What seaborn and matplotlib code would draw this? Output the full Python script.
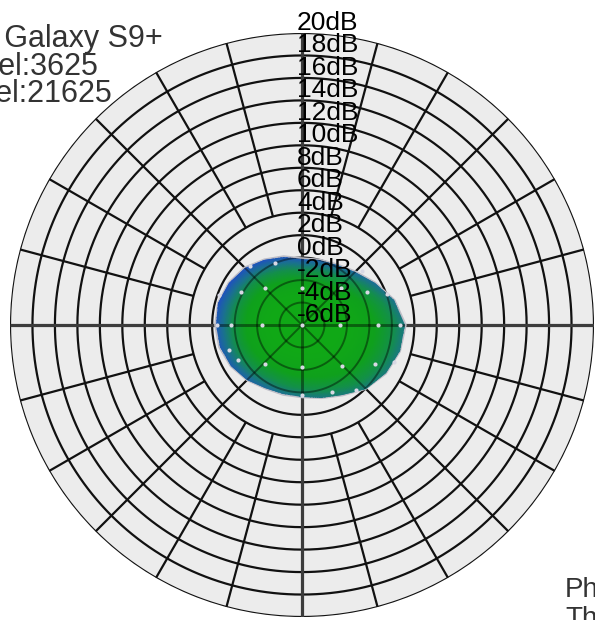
import numpy as np
import matplotlib
matplotlib.use("Agg")
import matplotlib.pyplot as plt
import seaborn as sns
from matplotlib import font_manager, transforms
from matplotlib.colors import LinearSegmentedColormap

sns.set_theme(style="white")
plt.rcParams['font.family'] = ['Liberation Sans', 'DejaVu Sans']

# ---- data -------------------------------------------------------------
# scale rings (dB) and their labels
ring_levels = [-4, -2, 0, 2, 4, 6, 8, 10, 12, 14, 16, 18, 20]
label_levels = [20, 18, 16, 14, 12, 10, 8, 6, 4, 2, 0, -2, -4, -6]
label_text = [f"{v}dB" for v in label_levels]

# azimuth cut of the measured pattern (deg) and gain (dB)
azimuth_deg = [0, 15, 30, 45, 60, 75, 90, 105, 120, 135, 150, 165,
               180, 195, 210, 225, 240, 255, 270, 285, 300, 315, 330, 345]
gain_db = [3.2, 2.5, 1.5, 0.7, 0.2, 0.0, -0.1, 0.3, 0.7, 1.2, 1.5, 1.7,
           1.7, 1.6, 1.3, 0.9, 0.5, 0.4, 0.4, 0.7, 1.2, 2.0, 2.6, 3.0]

# projected measurement points on the surface
point_phi_deg = [0,
                 0, 43, 90, 135, 180, 227, 270, 314,
                 0, 27, 114, 152, 180, 209, 294, 332,
                 0, 20, 42, 131, 160, 180, 199, 270, 310, 338]
point_db = [-6.0,
            -2.6, -1.2, -2.7, -1.4, -2.4, -1.2, -2.3, -0.9,
            0.8, 0.5, 0.0, 0.2, 0.3, 0.5, 0.5, 1.4,
            2.7, 2.1, 1.2, 1.0, 1.9, 1.6, 0.9, 0.2, 1.5, 2.8]

title_lines = ["Samsung Galaxy S9+", "DL Channel:3625", "UL Channel:21625"]
footer_lines = ["Phi", "Theta"]

# ---- fonts -------------------------------------------------------------
label_fp = None
for entry in font_manager.fontManager.ttflist:
    if "liberationsansnarrow-regular" in entry.fname.lower():
        label_fp = font_manager.FontProperties(fname=entry.fname, size=21)
        break
if label_fp is None:
    label_fp = font_manager.FontProperties(family="Liberation Sans", size=19)

# ---- figure ------------------------------------------------------------
W, H = 595, 620
fig = plt.figure(figsize=(W / 100, H / 100), dpi=100)
fig.patch.set_facecolor("white")
ax = fig.add_axes([10 / W, 3 / H, 584 / W, 584 / H], projection="polar")
rmin, rmax = -6, 20
ax.set_ylim(rmin, rmax)
ax.set_facecolor("#ececec")
ax.grid(False)
ax.set_xticks([])
ax.set_yticks([])
ax.spines["polar"].set_visible(False)

theta_fine = np.linspace(0, 2 * np.pi, 721)


def draw_grid(color, axis_color, alpha, zorder, lw=1.6, clip=None):
    lines = []
    for lv in ring_levels:
        lines += ax.plot(theta_fine, np.full_like(theta_fine, lv),
                         color=color, lw=lw, alpha=alpha, zorder=zorder)
    for a in range(0, 360, 15):
        t = np.radians(a)
        if a % 90 == 0:
            lines += ax.plot([t, t], [rmin, rmax], color=axis_color,
                             lw=lw + 0.7, alpha=alpha, zorder=zorder,
                             solid_capstyle="butt")
        elif a % 45 == 0:
            lines += ax.plot([t, t], [rmin, rmax], color=color, lw=lw,
                             alpha=alpha, zorder=zorder, solid_capstyle="butt")
        else:
            lines += ax.plot([t, t], [4, rmax], color=color, lw=lw,
                             alpha=alpha, zorder=zorder, solid_capstyle="butt")
    if clip is not None:
        for ln in lines:
            ln.set_clip_path(clip)
    return lines


# base grid
draw_grid("#111111", "#3c3c3c", 1.0, 2)

# pattern outline
th_closed = np.radians(azimuth_deg + [azimuth_deg[0] + 360])
g_closed = np.array(gain_db + [gain_db[0]])
blob = ax.fill(th_closed, g_closed, facecolor="none", edgecolor="#bdbdc6",
               lw=2.0, zorder=3)[0]

# shaded surface, clipped to the pattern outline
th_e = np.linspace(0, 2 * np.pi, 361)
r_e = np.linspace(rmin, 5, 160)
thc = 0.5 * (th_e[1:] + th_e[:-1])
rc = 0.5 * (r_e[1:] + r_e[:-1])
TH, RR = np.meshgrid(thc, rc)
edge_r = np.interp(thc, th_closed, g_closed)[None, :] - rmin
frac = (RR - rmin) / edge_r
tilt = 0.85 + 0.15 * np.cos(TH - np.radians(140))
V = np.clip(np.clip((frac - 0.32) / 0.68, 0, 1) ** 1.6 * tilt, 0, 1)
cmap = LinearSegmentedColormap.from_list(
    "surf", [(0.0, "#10a816"), (0.3, "#0fa01c"), (0.55, "#138f4a"),
             (0.78, "#1a7090"), (1.0, "#1f50c0")])
mesh = ax.pcolormesh(th_e, r_e, V, cmap=cmap, vmin=0, vmax=1,
                     shading="flat", antialiased=False, zorder=4)
mesh.set_clip_path(blob)

# grid seen through the surface
draw_grid("black", "black", 0.42, 5, lw=1.4, clip=blob)

# measurement points
ax.scatter(np.radians(point_phi_deg), point_db, s=9, c="#d8d8e4",
           linewidths=0, zorder=6)

# scale labels along the vertical axis
lab_tr = transforms.offset_copy(ax.transData, fig=fig, x=-5, y=3, units="dots")
for lv, txt in zip(label_levels, label_text):
    ax.text(np.pi / 2, lv, txt, transform=lab_tr, ha="left", va="baseline",
            fontproperties=label_fp, color="black", zorder=8, clip_on=False)

# header text
header_right = [163, 98, 112]
header_base = [47, 75, 102]
for txt, xr, yb in zip(title_lines, header_right, header_base):
    fig.text(xr / W, 1 - yb / H, txt, ha="right", va="baseline",
             fontsize=22, color="#333333")

# footer text
for txt, yb in zip(footer_lines, [597, 626]):
    fig.text(565 / W, 1 - yb / H, txt, ha="left", va="baseline",
             fontsize=20, color="#333333")

fig.savefig("out.png", dpi=100, facecolor="white")
